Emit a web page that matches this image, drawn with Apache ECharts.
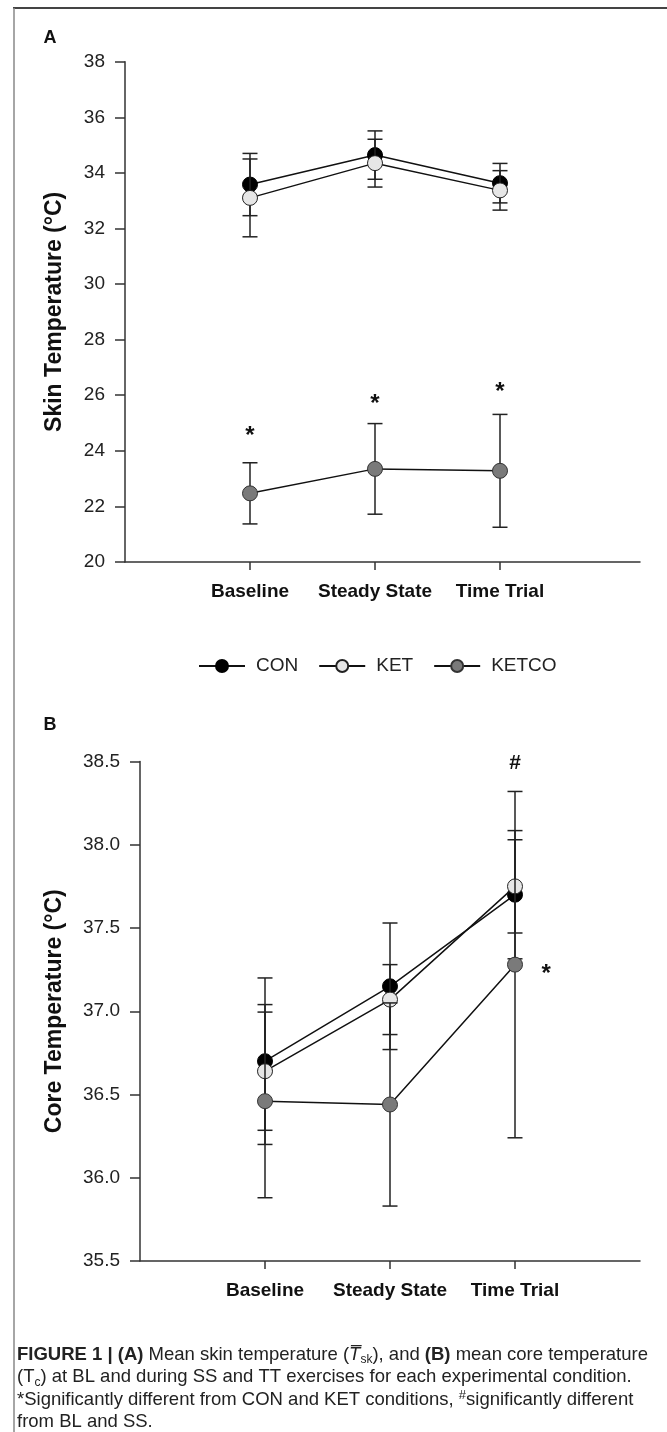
<!DOCTYPE html>
<html>
<head>
<meta charset="utf-8">
<script src="https://cdn.jsdelivr.net/npm/echarts@6/dist/echarts.min.js"></script>
<style>
html,body{margin:0;padding:0;background:#fff;}
#chart{width:667px;height:1432px;}
</style>
</head>
<body>
<div id="chart"></div>
<script>
// ---------- data ----------
const categories = ['Baseline', 'Steady State', 'Time Trial'];
const xPos = [1, 2, 3];

// Panel A: skin temperature (°C), mean and SD
const skinCON = [33.58, 34.64, 33.63];
const skinCON_SD = [1.12, 0.87, 0.71];
const skinKET = [33.10, 34.35, 33.37];
const skinKET_SD = [1.40, 0.86, 0.71];
const skinKETCO = [22.47, 23.35, 23.28];
const skinKETCO_SD = [1.10, 1.63, 2.03];
const skinSigX = [1, 2, 3];
const skinSigY = [24.75, 25.90, 26.33];
const skinSigText = ['*', '*', '*'];

// Panel B: core temperature (°C), mean and SD
const coreCON = [36.70, 37.15, 37.70];
const coreCON_SD = [0.50, 0.38, 0.385];
const coreKET = [36.64, 37.07, 37.75];
const coreKET_SD = [0.355, 0.21, 0.28];
const coreKETCO = [36.46, 36.44, 37.28];
const coreKETCO_SD = [0.58, 0.61, 1.04];
const coreSigX = [3, 3.25];
const coreSigY = [38.49, 37.26];
const coreSigText = ['#', '*'];

const skinTicks = {min: 20, max: 38, interval: 2};
const coreTicks = {min: 35.5, max: 38.5, interval: 0.5};

// ---------- styles ----------
const FONT = 'Liberation Sans, Arial, Helvetica, sans-serif';
const names = ['CON', 'KET', 'KETCO'];
const fills = ['#000000', '#e6e6e6', '#7a7a7a'];
const borders = ['#000000', '#222222', '#333333'];

function pts(vals) { return vals.map((v, i) => [xPos[i], v]); }
function errData(vals, sds) { return vals.map((v, i) => [xPos[i], v, sds[i]]); }

function errSeries(idx, vals, sds, gi, z) {
  return {
    type: 'custom', name: 'err' + names[idx] + gi,
    xAxisIndex: gi, yAxisIndex: gi, z: z, silent: true,
    data: errData(vals, sds),
    encode: {x: 0, y: 1},
    renderItem: function (params, api) {
      const x = api.value(0), m = api.value(1), s = api.value(2);
      const t = api.coord([x, m + s]);
      const b = api.coord([x, m - s]);
      const hw = 7.5;
      const st = {stroke: '#222', lineWidth: 1.5};
      return {type: 'group', children: [
        {type: 'line', shape: {x1: t[0], y1: t[1], x2: b[0], y2: b[1]}, style: st},
        {type: 'line', shape: {x1: t[0] - hw, y1: t[1], x2: t[0] + hw, y2: t[1]}, style: st},
        {type: 'line', shape: {x1: b[0] - hw, y1: b[1], x2: b[0] + hw, y2: b[1]}, style: st}
      ]};
    }
  };
}

function lineSeries(idx, vals, gi, z) {
  return {
    type: 'line', name: names[idx], xAxisIndex: gi, yAxisIndex: gi, z: z,
    data: pts(vals), symbol: 'circle', symbolSize: 15,
    lineStyle: {color: '#111', width: 1.5},
    itemStyle: {color: fills[idx], borderColor: borders[idx], borderWidth: 1},
    emphasis: {disabled: true}, animation: false
  };
}

function sigSeries(xs, ys, texts, gi) {
  return {
    type: 'custom', name: 'sig' + gi, xAxisIndex: gi, yAxisIndex: gi, z: 10, silent: true,
    data: xs.map((x, i) => [x, ys[i], i]),
    encode: {x: 0, y: 1},
    renderItem: function (params, api) {
      const p = api.coord([api.value(0), api.value(1)]);
      const t = texts[api.value(2)];
      const star = t === '*';
      return {type: 'text', x: p[0], y: p[1] + (star ? 6 : 0), style: {
        text: t, fontSize: star ? 24 : 21, fontWeight: 'bold', fontFamily: FONT,
        fill: '#111', align: 'center', verticalAlign: 'middle'
      }};
    }
  };
}

function xAxisCfg(gi, max) {
  return {
    type: 'value', gridIndex: gi, min: 0, max: max,
    axisLine: {show: true, onZero: false, lineStyle: {color: '#333', width: 1.5}},
    axisTick: {show: true, customValues: xPos, length: 8, lineStyle: {color: '#333', width: 1.5}},
    axisLabel: {show: true, customValues: xPos, formatter: v => categories[Math.round(v) - 1] || '',
      fontSize: 19, fontWeight: 'bold', color: '#111', fontFamily: FONT, margin: 20},
    splitLine: {show: false}
  };
}

function yAxisCfg(gi, ticks, name, gap, dec) {
  return {
    type: 'value', gridIndex: gi, min: ticks.min, max: ticks.max, interval: ticks.interval,
    axisLine: {show: true, lineStyle: {color: '#333', width: 1.5}},
    axisTick: {show: true, length: 10, lineStyle: {color: '#333', width: 1.5}},
    axisLabel: {fontSize: 19, color: '#222', fontFamily: FONT, margin: 20,
      formatter: v => v.toFixed(dec)},
    splitLine: {show: false},
    name: name, nameLocation: 'middle', nameGap: gap,
    nameTextStyle: {fontSize: 23, fontWeight: 'bold', color: '#111', fontFamily: FONT}
  };
}

const chart = echarts.init(document.getElementById('chart'), null, {renderer: 'canvas'});
chart.setOption({
  backgroundColor: '#fff',
  animation: false,
  textStyle: {fontFamily: FONT},
  grid: [
    {left: 125, top: 61.7, width: 515, height: 500.3},
    {left: 140, top: 761.5, width: 500, height: 499.5}
  ],
  xAxis: [xAxisCfg(0, 4.12), xAxisCfg(1, 4)],
  yAxis: [
    yAxisCfg(0, skinTicks, 'Skin Temperature (°C)', 59, 0),
    yAxisCfg(1, coreTicks, 'Core Temperature (°C)', 74, 1)
  ],
  legend: {
    data: names, left: 198, top: 656.5, padding: 0, itemWidth: 46, itemHeight: 15, itemGap: 20,
    textStyle: {fontSize: 19, color: '#222', fontFamily: FONT, padding: [0, 0, 0, 6]},
    selectedMode: false
  },
  graphic: [
    {type: 'line', shape: {x1: 13, y1: 8, x2: 667, y2: 8}, style: {stroke: '#444', lineWidth: 2}},
    {type: 'line', shape: {x1: 14, y1: 8, x2: 14, y2: 1432}, style: {stroke: '#888', lineWidth: 1.5}},
    {type: 'text', x: 50, y: 38, style: {text: 'A', fontSize: 18, fontWeight: 'bold', fill: '#111', fontFamily: FONT, align: 'center', verticalAlign: 'middle'}},
    {type: 'text', x: 50, y: 725, style: {text: 'B', fontSize: 18, fontWeight: 'bold', fill: '#111', fontFamily: FONT, align: 'center', verticalAlign: 'middle'}},
    {type: 'text', left: 17, top: 1343.5, style: {
      text: '{b|FIGURE 1 | (A)} Mean skin temperature ({it|T\u0305}{sub|sk}), and {b|(B)} mean core temperature\n' +
            '(T{sub|c}) at BL and during SS and TT exercises for each experimental condition.\n' +
            '*Significantly different from CON and KET conditions, {sup|#}significantly different\n' +
            'from BL and SS.',
      fontSize: 18.5, lineHeight: 22.5, fill: '#222', fontFamily: FONT,
      rich: {
        b: {fontWeight: 'bold', fontSize: 18.5, lineHeight: 22.5, fontFamily: FONT, fill: '#222'},
        it: {fontStyle: 'italic', fontSize: 18.5, lineHeight: 22.5, fontFamily: FONT, fill: '#222'},
        sub: {fontSize: 12, lineHeight: 10, verticalAlign: 'bottom', fontFamily: FONT, fill: '#222'},
        sup: {fontSize: 13, lineHeight: 10, verticalAlign: 'top', fontFamily: FONT, fill: '#222'}
      }
    }}
  ],
  series: [
    errSeries(0, skinCON, skinCON_SD, 0, 2), lineSeries(0, skinCON, 0, 3),
    errSeries(1, skinKET, skinKET_SD, 0, 4), lineSeries(1, skinKET, 0, 5),
    errSeries(2, skinKETCO, skinKETCO_SD, 0, 6), lineSeries(2, skinKETCO, 0, 7),
    sigSeries(skinSigX, skinSigY, skinSigText, 0),
    errSeries(0, coreCON, coreCON_SD, 1, 2), lineSeries(0, coreCON, 1, 3),
    errSeries(1, coreKET, coreKET_SD, 1, 4), lineSeries(1, coreKET, 1, 5),
    errSeries(2, coreKETCO, coreKETCO_SD, 1, 6), lineSeries(2, coreKETCO, 1, 7),
    sigSeries(coreSigX, coreSigY, coreSigText, 1)
  ]
});
</script>
</body>
</html>
